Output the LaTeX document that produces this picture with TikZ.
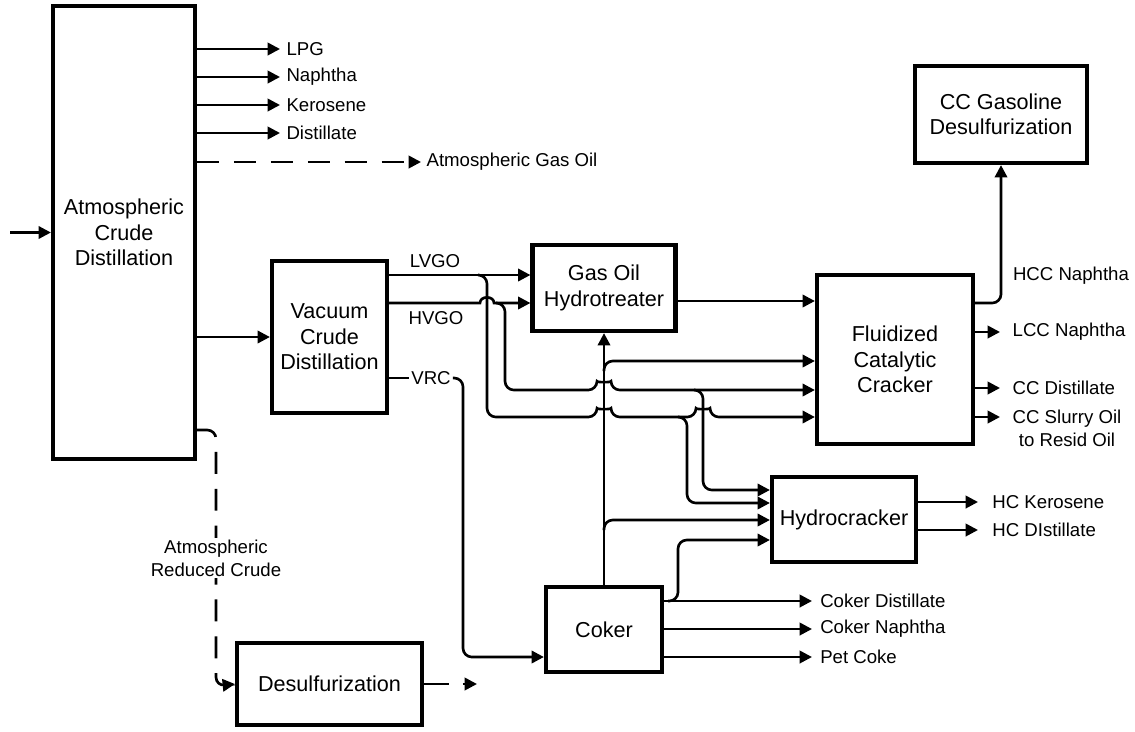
\documentclass[tikz,border=0pt]{standalone}
\usepackage{fontspec}
\setmainfont{Liberation Sans}
\usetikzlibrary{arrows.meta}

% line jump over a vertical pipe at x=#1 on a horizontal run at y=#2
\newcommand{\hopx}[2]{-- (#1-7,#2) .. controls (#1-7,#2-7.5) and (#1+7,#2-7.5) .. (#1+7,#2)}

\begin{document}
\begin{tikzpicture}[
  x=0.02cm, y=-0.02cm,
  box/.style={draw, line width=2.4pt, align=center, inner sep=0pt, font=\fontsize{12.3}{14.5}\selectfont},
  lbl/.style={inner sep=1pt, align=center, font=\fontsize{10.6}{13}\selectfont},
  flow/.style={-{Triangle[length=7pt,width=7pt]}, line width=1.5pt},
  pipe/.style={line width=1.5pt},
  feed/.style={dash pattern=on 12.5pt off 8.5pt}
]
\useasboundingbox (0,0) rectangle (1135,731);

% units
\node[box, minimum width=2.84cm, minimum height=9.06cm] (atm) at (124,232.5) {Atmospheric\\Crude\\Distillation};
\node[box, minimum width=2.3cm, minimum height=3.04cm] (vac) at (329.5,337) {Vacuum\\Crude\\Distillation};
\node[box, minimum width=2.86cm, minimum height=1.72cm] (goh) at (604,288) {Gas Oil\\Hydrotreater};
\node[box, minimum width=3.12cm, minimum height=3.38cm] (fcc) at (895,359.5) {Fluidized\\Catalytic\\Cracker};
\node[box, minimum width=3.44cm, minimum height=1.94cm] (ccg) at (1001,114.5) {CC Gasoline\\Desulfurization};
\node[box, minimum width=2.88cm, minimum height=1.7cm] (hyc) at (844,519.5) {Hydrocracker};
\node[box, minimum width=2.32cm, minimum height=1.7cm] (cok) at (604,629.5) {Coker};
\node[box, minimum width=3.7cm, minimum height=1.64cm] (des) at (329.5,684) {Desulfurization};

% crude in, atmospheric cuts
\coordinate (crude) at (10,232.5);
\draw[flow] (crude) -- (atm.west);
\foreach \y/\nm/\lab in {49/lpg/LPG, 77/nap/Naphtha, 105/ker/Kerosene, 133/dis/Distillate}{
  \node[lbl, anchor=west, inner xsep=3.5pt] (\nm) at (280,\y) {\lab};
  \draw[flow] (atm.east |- \nm) -- (\nm.west);
}
\node[lbl, anchor=west, inner xsep=3pt] (ago) at (421,162) {Atmospheric Gas Oil};
\draw[flow, feed] (atm.east |- ago) -- (ago.west);
\draw[flow] (atm.east |- vac.west) -- (vac.west);

% vacuum gas oils
\coordinate (lvtap) at (487,275);
\coordinate (hvtap) at (505,303);
\node[lbl] (lvgo) at (435,261) {LVGO};
\node[lbl] (hvgo) at (436,318) {HVGO};
\draw[flow] (vac.east |- lvtap) -- (goh.west |- lvtap);
\draw[flow] (vac.east |- hvtap) \hopx{487}{303} -- (goh.west |- hvtap);
\draw[flow, rounded corners=5pt] (479,275) -- (lvtap) -- (487,417) \hopx{604}{417} \hopx{703}{417} -- (fcc.west |- 0,417);
\draw[flow, rounded corners=5pt] (497,303) -- (hvtap) -- (505,390) \hopx{604}{390} -- (fcc.west |- 0,390);
\draw[flow, rounded corners=5pt] (695,390) -- (703,390) -- (703,490) -- (hyc.west |- 0,490);
\draw[flow, rounded corners=5pt] (679,417) -- (687,417) -- (687,503) -- (hyc.west |- 0,503);

% coker riser
\draw[flow] (cok.north) -- (goh.south);
\draw[flow, rounded corners=5pt] (604,371) -- (604,361) -- (fcc.west |- 0,361);
\draw[flow, rounded corners=5pt] (604,530) -- (604,520) -- (hyc.west |- 0,520);
\draw[flow] (goh.east |- 0,301) -- (fcc.west |- 0,301);

% vacuum residue to coker
\node[lbl] (vrc) at (431,378) {VRC};
\draw[pipe] (vac.east |- vrc) -- (vrc.west);
\draw[flow, rounded corners=5pt] (vrc.east) -- (463,378) -- (463,657) -- (cok.west |- 0,657);

% coker products
\foreach \y/\nm/\lab in {601/cdis/Coker Distillate, 629/cnap/Coker Naphtha, 657/pcoke/Pet Coke}{
  \node[lbl, anchor=west, inner xsep=4.5pt] (\nm) at (812,\y) {\lab};
  \draw[flow] (cok.east |- \nm) -- (\nm.west);
}
\draw[flow, rounded corners=5pt] (668,601) -- (678,601) -- (678,540) -- (hyc.west |- 0,540);

% FCC products
\draw[flow, rounded corners=5pt] (fcc.east |- 0,303) -| (ccg.south);
\node[lbl] (hcc) at (1071,276) {HCC Naphtha};
\foreach \y/\nm/\lab in {332/lcc/LCC Naphtha, 388/ccd/CC Distillate}{
  \node[lbl, anchor=west, inner xsep=7pt] (\nm) at (1000,\y) {\lab};
  \draw[flow] (fcc.east |- \nm) -- (\nm.west);
}
\coordinate (slurry) at (1000,417);
\node[lbl] (slurrytxt) at (1067,428.5) {CC Slurry Oil\\to Resid Oil};
\draw[flow] (fcc.east |- slurry) -- (slurry);

% hydrocracker products
\foreach \y/\nm/\lab in {502/hck/HC Kerosene, 530/hcd/HC DIstillate}{
  \node[lbl, anchor=west, inner xsep=8pt] (\nm) at (978,\y) {\lab};
  \draw[flow] (hyc.east |- \nm) -- (\nm.west);
}

% reduced crude
\draw[flow, feed, rounded corners=5pt] (atm.east |- 0,430) -- (216,430) -- (216,686) -- (des.west);
\node[lbl, fill=white] (arc) at (216,558) {Atmospheric\\Reduced Crude};
\coordinate (desout) at (477,684);
\draw[flow, dash pattern=on 14pt off 8pt] (des.east) -- (desout);
\end{tikzpicture}
\end{document}
